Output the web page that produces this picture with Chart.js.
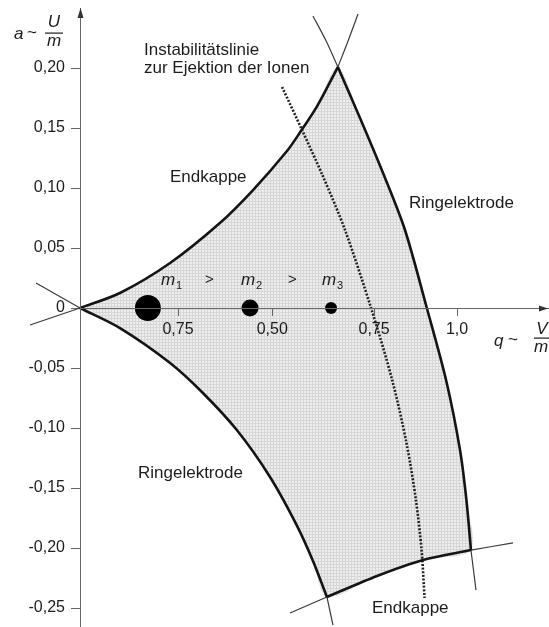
<!DOCTYPE html>
<html>
<head>
<meta charset="utf-8">
<script src="https://cdn.jsdelivr.net/npm/chart.js@4"></script>
<style>
  html, body { margin: 0; padding: 0; background: #fff; }
</style>
</head>
<body>
<canvas id="chart" width="549" height="627"></canvas>
<script>
// Stabilitätsdiagramm der Paul-Falle (q, a)

// obere Grenze (Endkappe), vom Ursprung bis zur Spitze
const upperQ = [0, 0.106, 0.239, 0.371, 0.459, 0.549, 0.586, 0.629, 0.684];
const upperA = [0, 0.0125, 0.0375, 0.0708, 0.0983, 0.1308, 0.1475, 0.1683, 0.2008];

// rechte Grenze (Ringelektrode), von der Spitze bis zur Ecke unten rechts
const rightQ = [0.684, 0.745, 0.806, 0.862, 0.920, 0.971, 1.008, 1.025, 1.037];
const rightA = [0.2008, 0.1567, 0.1108, 0.065, 0, -0.06, -0.1183, -0.16, -0.2017];

// untere Grenze (Endkappe), von der Ecke unten links bis unten rechts
const bottomQ = [0.655, 0.788, 0.910, 1.037];
const bottomA = [-0.2408, -0.2233, -0.21, -0.2017];

// linke untere Grenze (Ringelektrode), vom Ursprung bis zur Ecke unten links
const lowerQ = [0, 0.106, 0.239, 0.326, 0.416, 0.504, 0.576, 0.618, 0.655];
const lowerA = [0, -0.0167, -0.0458, -0.0708, -0.1017, -0.1408, -0.1817, -0.2108, -0.2408];

// Fortsetzungen der Kurven über die Ecken hinaus
const extOriginUpper = [[0, 0], [-0.1326, -0.0142]];
const extOriginLower = [[0, 0], [-0.1167, 0.0208]];
const extApexUpper = [[0.684, 0.2008], [0.711, 0.2225], [0.7374, 0.245]];
const extApexRight = [[0.684, 0.2008], [0.653, 0.2225], [0.618, 0.2433]];
const extBottomLeft = [[0.655, -0.2408], [0.557, -0.2542]];
const extBottomRight = [[1.037, -0.2017], [1.1485, -0.1958]];
const extLowerDown = [[0.655, -0.2408], [0.671, -0.2642]];
const extRightDown = [[1.037, -0.2017], [1.0504, -0.235]];

// Instabilitätslinie (gepunktet)
const ejectQ = [0.536, 0.589, 0.643, 0.703, 0.772, 0.828, 0.866, 0.891, 0.906, 0.914];
const ejectA = [0.1842, 0.1483, 0.1108, 0.065, 0, -0.06, -0.1125, -0.16, -0.2017, -0.2417];

// Ionen m1 > m2 > m3 auf der q-Achse
const massQ = [0.180, 0.451, 0.666];

// Achsenbeschriftung (wie in der Vorlage gedruckt)
const xTickValues = [0.26, 0.51, 0.78, 1.0];
const xTickLabels = ['0,75', '0,50', '0,75', '1,0'];
const yTickValues = [-0.25, -0.2, -0.15, -0.1, -0.05, 0, 0.05, 0.1, 0.15, 0.2];
const yTickLabels = ['-0,25', '-0,20', '-0,15', '-0,10', '-0,05', '0', '0,05', '0,10', '0,15', '0,20'];

const FONT = '"Liberation Sans", Arial, sans-serif';
const INK = '#1c1c1c';

const toPts = (qs, as) => qs.map((q, i) => ({ x: q, y: as[i] }));
const pairPts = pairs => pairs.map(p => ({ x: p[0], y: p[1] }));

const upper = toPts(upperQ, upperA);
const right = toPts(rightQ, rightA);
const bottom = toPts(bottomQ, bottomA);
const lower = toPts(lowerQ, lowerA);

// geschlossene Fläche des Stabilitätsbereichs
const region = upper
    .concat(right.slice(1))
    .concat(bottom.slice().reverse().slice(1))
    .concat(lower.slice().reverse().slice(1));

const canvas = document.getElementById('chart');
const ctx = canvas.getContext('2d');

// Rasterfläche wie im Druck
function screenPattern() {
    const tile = document.createElement('canvas');
    tile.width = 3;
    tile.height = 3;
    const g = tile.getContext('2d');
    g.fillStyle = '#eeeeee';
    g.fillRect(0, 0, 3, 3);
    g.fillStyle = '#d6d6d6';
    g.fillRect(0, 0, 3, 1);
    g.fillRect(0, 0, 1, 3);
    return ctx.createPattern(tile, 'repeat');
}

function boundary(data) {
    return {
        data: data,
        showLine: true,
        borderColor: '#141414',
        borderWidth: 2.6,
        tension: 0.3,
        pointRadius: 0,
        clip: false,
        order: 2
    };
}

function thinLine(pairs) {
    return {
        data: pairPts(pairs),
        showLine: true,
        borderColor: '#3a3a3a',
        borderWidth: 1.2,
        tension: 0.3,
        pointRadius: 0,
        clip: false,
        order: 3
    };
}

function zeroPadding(scale) {
    scale.paddingLeft = 0;
    scale.paddingRight = 0;
    scale.paddingTop = 0;
    scale.paddingBottom = 0;
}

/**
 * Texte, Achsentitel und Pfeile.
 */
const annotations = {
    id: 'annotations',
    afterDraw(chart) {
        const c = chart.ctx;
        c.save();
        c.fillStyle = INK;
        c.strokeStyle = INK;
        c.textBaseline = 'middle';
        c.textAlign = 'left';

        c.font = '17px ' + FONT;
        c.fillText('Instabilitätslinie', 144, 50);
        c.fillText('zur Ejektion der Ionen', 144, 68);
        c.fillText('Endkappe', 170, 177);
        c.fillText('Ringelektrode', 409, 203);
        c.fillText('Ringelektrode', 138, 473);
        c.fillText('Endkappe', 372, 608);

        // m1 > m2 > m3
        const masses = [[161, '1'], [241, '2'], [322, '3']];
        masses.forEach(([x, sub]) => {
            c.font = 'italic 17px ' + FONT;
            c.fillText('m', x, 280);
            c.font = '11px ' + FONT;
            c.fillText(sub, x + 15, 286);
        });
        c.font = '15px ' + FONT;
        c.fillText('>', 205, 280);
        c.fillText('>', 288, 280);

        // a ~ U/m
        c.font = 'italic 17px ' + FONT;
        c.fillText('a', 14, 34);
        c.font = '17px ' + FONT;
        c.fillText('~', 27, 33);
        c.textAlign = 'center';
        c.font = 'italic 17px ' + FONT;
        c.fillText('U', 54, 22);
        c.fillText('m', 54, 41);
        c.fillRect(45, 32.5, 18, 1.2);

        // q ~ V/m
        c.textAlign = 'left';
        c.fillText('q', 494, 341);
        c.font = '17px ' + FONT;
        c.fillText('~', 508, 340);
        c.textAlign = 'center';
        c.font = 'italic 17px ' + FONT;
        c.fillText('V', 542, 329);
        c.fillText('m', 541, 347);
        c.fillRect(534, 337.5, 15, 1.2);

        // Achsenpfeile
        const xs = chart.scales.x;
        const ys = chart.scales.y;
        const x0 = Math.round(xs.getPixelForValue(0)) + 0.5;
        const y0 = Math.round(ys.getPixelForValue(0)) + 0.5;
        c.fillStyle = '#333';
        c.beginPath();
        c.moveTo(x0, ys.top);
        c.lineTo(x0 - 3, ys.top + 10);
        c.lineTo(x0 + 3, ys.top + 10);
        c.closePath();
        c.fill();
        c.beginPath();
        c.moveTo(xs.right, y0);
        c.lineTo(xs.right - 9, y0 - 3);
        c.lineTo(xs.right - 9, y0 + 3);
        c.closePath();
        c.fill();
        c.restore();
    }
};

new Chart(ctx, {
    type: 'scatter',
    data: {
        datasets: [
            {
                data: region,
                showLine: true,
                borderWidth: 0,
                borderColor: 'rgba(0,0,0,0)',
                backgroundColor: screenPattern(),
                fill: 'shape',
                tension: 0.3,
                pointRadius: 0,
                order: 5
            },
            boundary(upper),
            boundary(right),
            boundary(bottom),
            boundary(lower),
            thinLine(extOriginUpper),
            thinLine(extOriginLower),
            thinLine(extApexUpper),
            thinLine(extApexRight),
            thinLine(extBottomLeft),
            thinLine(extBottomRight),
            thinLine(extLowerDown),
            thinLine(extRightDown),
            {
                data: toPts(ejectQ, ejectA),
                showLine: true,
                borderColor: '#222',
                borderWidth: 2.6,
                borderDash: [2, 1.6],
                borderCapStyle: 'butt',
                tension: 0.3,
                pointRadius: 0,
                order: 4
            },
            {
                data: massQ.map(q => ({ x: q, y: 0 })),
                pointRadius: [13, 8.5, 6],
                pointBackgroundColor: '#000',
                pointBorderWidth: 0,
                order: 1
            }
        ]
    },
    options: {
        responsive: false,
        animation: false,
        layout: { autoPadding: false, padding: { top: 8, right: 1, bottom: 0, left: 0 } },
        plugins: {
            legend: { display: false },
            tooltip: { enabled: false }
        },
        scales: {
            x: {
                type: 'linear',
                min: 0,
                max: (548 - 80) / 377,
                position: { y: 0 },
                afterBuildTicks: s => { s.ticks = xTickValues.map(v => ({ value: v })); },
                afterFit: zeroPadding,
                ticks: {
                    autoSkip: false,
                    maxRotation: 0,
                    padding: 5,
                    color: INK,
                    font: { family: FONT, size: 16 },
                    callback: (v, i) => xTickLabels[i],
                    z: 2
                },
                grid: { drawOnChartArea: false, tickLength: 7, color: '#666', z: 1 },
                border: { color: '#666', width: 1, z: 2 }
            },
            y: {
                type: 'linear',
                min: (308 - 627) / 1200,
                max: (308 - 8) / 1200,
                position: 'left',
                afterBuildTicks: s => { s.ticks = yTickValues.map(v => ({ value: v })); },
                afterFit: s => { zeroPadding(s); s.width = 80; },
                ticks: {
                    autoSkip: false,
                    padding: 6,
                    color: INK,
                    font: { family: FONT, size: 16 },
                    callback: (v, i) => yTickLabels[i]
                },
                grid: { drawOnChartArea: false, tickLength: 9, color: '#666' },
                border: { color: '#666', width: 1, z: 2 }
            }
        }
    },
    plugins: [annotations]
});
</script>
</body>
</html>
